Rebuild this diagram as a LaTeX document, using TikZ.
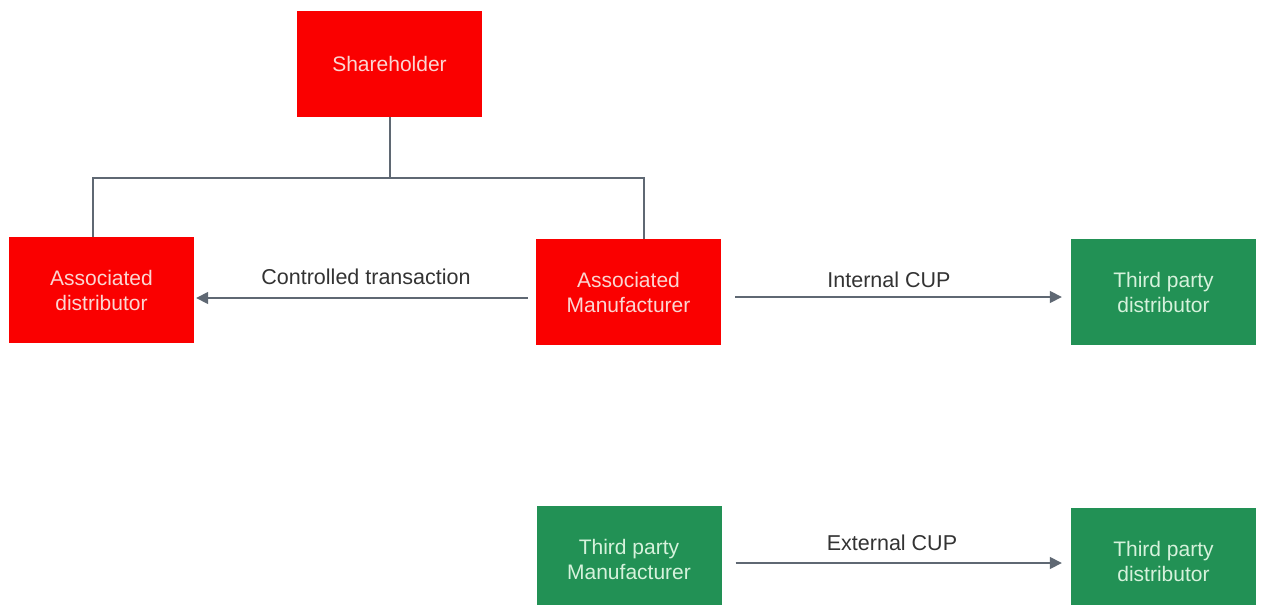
\documentclass[tikz,border=0pt]{standalone}
\usepackage{fontspec}
\setmainfont{Liberation Sans}
\usetikzlibrary{arrows.meta,calc}
\definecolor{boxred}{HTML}{FA0000}
\definecolor{boxgreen}{HTML}{229155}
\definecolor{redtxt}{HTML}{FAD6D2}
\definecolor{greentxt}{HTML}{D6F2DC}
\definecolor{linegray}{HTML}{5F6873}
\definecolor{labelgray}{HTML}{333333}
\tikzset{
  box/.style={minimum width=185pt,minimum height=106pt,inner sep=0pt,align=center,
    font=\fontsize{21}{25}\selectfont},
  redbox/.style={box,fill=boxred,text=redtxt},
  greenbox/.style={box,fill=boxgreen,text=greentxt},
  tree/.style={draw=linegray,line width=2pt},
  arr/.style={draw=linegray,line width=1.6pt,-{Triangle[length=12pt,width=12pt]}},
  lbl/.style={text=labelgray,font=\fontsize{21.5}{24}\selectfont,inner sep=0pt}
}
\begin{document}
\begin{tikzpicture}[x=1pt,y=-1pt]
\useasboundingbox (0,0) rectangle (1261,605);
\clip (0,0) rectangle (1261,605);
\fill[white] (0,0) rectangle (1261,605);
\node[redbox] (sh) at (389.5,64) {Shareholder};
\node[redbox] (dist) at (101.5,290) {Associated\\distributor};
\node[redbox] (man) at (628.5,292) {Associated\\Manufacturer};
\node[greenbox] (tpd1) at (1163.5,292) {Third party\\distributor};
\node[greenbox] (tpm) at (629,559) {Third party\\Manufacturer};
\node[greenbox] (tpd2) at (1163.5,561) {Third party\\distributor};
\coordinate (jl) at (93,178);
\coordinate (jr) at (644,178);
\draw[tree] (sh.south) -- (sh.south |- jl);
\draw[tree] (dist.north -| jl) -- (jl) -- (jr) -- (man.north -| jr);
\draw[arr] ($(man.west)+(-8,6)$) -- ($(dist.east |- man.west)+(2,6)$);
\draw[arr] ($(man.east)+(14,5)$) -- ($(tpd1.west)+(-9,5)$);
\draw[arr] ($(tpm.east)+(14,4)$) -- ($(tpd2.west |- tpm.east)+(-9,4)$);
\node[lbl] (l1) at (366,277) {Controlled transaction};
\node[lbl] (l2) at (889,280) {Internal CUP};
\node[lbl] (l3) at (892,543) {External CUP};
\end{tikzpicture}
\end{document}
